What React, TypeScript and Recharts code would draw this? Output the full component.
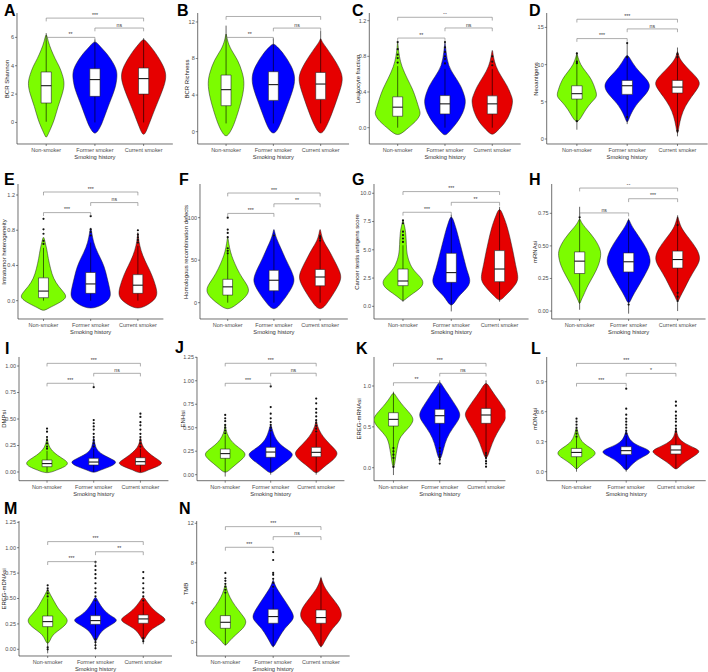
import React from "react";
import { ComposedChart, Scatter, XAxis, YAxis } from "recharts";

type Pt = [number, number];
type Box = [number, number, number];
type Sig = [number, number, number, string];

const FONT = "'Liberation Sans', Arial, sans-serif";
const groups = ["Non-smoker", "Former smoker", "Current smoker"];
const colors = ["#7CFC00", "#0000FF", "#E60000"];

// violin profiles: [value, half width in category units], bottom to top
// boxes: [q1, median, q3]; whiskers: [low, high]; outliers: [group, value]
// sig: [from, to, bracket height, label]

const A_violin: Pt[][] = [
  [[-1.1, 0], [-0.9, 0.03], [-0.52, 0.08], [0.19, 0.17], [1.13, 0.24], [2.07, 0.34], [2.78, 0.38], [3.4, 0.33], [3.96, 0.27], [4.5, 0.18], [5.14, 0.1], [5.7, 0.04], [6.4, 0]],
  [[-0.87, 0], [-0.52, 0.08], [-0.05, 0.15], [1.13, 0.27], [2.3, 0.41], [3.0, 0.45], [3.6, 0.46], [4.2, 0.38], [4.9, 0.24], [5.37, 0.1], [5.84, 0]],
  [[-1.0, 0], [-0.52, 0.07], [0.42, 0.17], [1.6, 0.31], [2.54, 0.42], [3.37, 0.48], [4.19, 0.38], [5.14, 0.2], [5.6, 0.08], [5.96, 0]],
];
const A_box: Box[] = [[1.37, 2.59, 3.56], [1.84, 3.02, 3.79], [2.0, 3.09, 3.84]];
const A_whisk: Pt[] = [[0.05, 6.3], [0, 5.85], [0, 5.95]];
const A_out: Pt[] = [];
const A_sig: Sig[] = [[1, 2, 6.0, "**"], [2, 3, 6.66, "ns"], [1, 3, 7.36, "***"]];

const B_violin: Pt[][] = [
  [[-0.7, 0], [0.04, 0.1], [0.95, 0.18], [2.4, 0.27], [3.86, 0.35], [5.32, 0.39], [6.41, 0.35], [7.87, 0.25], [8.96, 0.1], [10.05, 0.02], [11.0, 0]],
  [[-0.33, 0], [0.22, 0.1], [1.68, 0.21], [3.5, 0.34], [4.95, 0.44], [6.05, 0.46], [7.14, 0.39], [8.6, 0.21], [9.3, 0.08], [9.7, 0]],
  [[-0.5, 0], [0.58, 0.13], [2.4, 0.27], [4.22, 0.39], [5.68, 0.48], [6.78, 0.42], [8.23, 0.25], [9.33, 0.1], [9.9, 0.02], [10.3, 0]],
];
const B_box: Box[] = [[2.84, 4.59, 6.19], [3.42, 5.14, 6.56], [3.53, 5.21, 6.48]];
const B_whisk: Pt[] = [[0.9, 11.6], [0.9, 10.2], [0.9, 11.0]];
const B_out: Pt[] = [];
const B_sig: Sig[] = [[1, 2, 10.31, "**"], [2, 3, 11.33, "ns"], [1, 3, 12.6, "**"]];

const C_violin: Pt[][] = [
  [[-0.105, 0], [-0.02, 0.18], [0.07, 0.39], [0.15, 0.49], [0.2, 0.46], [0.32, 0.39], [0.43, 0.32], [0.54, 0.21], [0.69, 0.08], [0.8, 0.035], [0.9, 0.01], [1.0, 0]],
  [[-0.1, 0], [-0.04, 0.1], [0.05, 0.25], [0.17, 0.39], [0.28, 0.44], [0.35, 0.42], [0.47, 0.34], [0.58, 0.2], [0.69, 0.07], [0.85, 0.02], [1.0, 0]],
  [[-0.09, 0], [-0.04, 0.1], [0.05, 0.27], [0.17, 0.39], [0.3, 0.44], [0.35, 0.41], [0.47, 0.32], [0.58, 0.18], [0.69, 0.07], [0.8, 0.02], [0.9, 0]],
];
const C_box: Box[] = [[0.128, 0.23, 0.346], [0.154, 0.267, 0.36], [0.154, 0.267, 0.357]];
const C_whisk: Pt[] = [[0, 0.69], [0, 0.66], [0, 0.66]];
const C_out: Pt[] = [[1, 0.73], [1, 0.78], [1, 0.82], [1, 0.88], [1, 0.96], [2, 0.72], [2, 0.77], [2, 0.8], [2, 0.85], [2, 0.9], [2, 0.96], [3, 0.7], [3, 0.74], [3, 0.8]];
const C_sig: Sig[] = [[1, 2, 1.005, "**"], [2, 3, 1.118, "ns"], [1, 3, 1.238, "**"]];

const D_violin: Pt[][] = [
  [[2.15, 0], [2.8, 0.08], [3.94, 0.17], [5.06, 0.3], [5.7, 0.41], [6.6, 0.37], [8.0, 0.3], [9.1, 0.17], [10.0, 0.07], [11.0, 0.02], [11.6, 0]],
  [[2.15, 0], [2.6, 0.03], [3.5, 0.08], [4.83, 0.2], [5.95, 0.37], [7.07, 0.47], [8.0, 0.4], [9.3, 0.2], [10.65, 0.07], [11.5, 0]],
  [[0.36, 0], [1.7, 0.03], [3.04, 0.07], [4.4, 0.15], [5.7, 0.28], [6.85, 0.41], [7.74, 0.47], [9.3, 0.23], [10.4, 0.08], [11.2, 0.02], [12.0, 0]],
];
const D_box: Box[] = [[5.37, 6.09, 7.16], [6.0, 7.16, 7.88], [6.18, 6.98, 7.88]];
const D_whisk: Pt[] = [[1.25, 11.6], [2.0, 12.9], [0.36, 12.3]];
const D_out: Pt[] = [[1, 2.4], [1, 10.2], [1, 10.4], [1, 11.5], [2, 2.95], [2, 11.0], [2, 12.9], [3, 1.1], [3, 11.0], [3, 11.4]];
const D_sig: Sig[] = [[1, 2, 13.5, "***"], [2, 3, 14.8, "ns"], [1, 3, 16.1, "***"]];

const E_violin: Pt[][] = [
  [[-0.12, 0], [-0.086, 0.1], [-0.03, 0.32], [0.03, 0.49], [0.08, 0.46], [0.16, 0.32], [0.25, 0.21], [0.36, 0.15], [0.48, 0.1], [0.59, 0.07], [0.66, 0.035], [0.75, 0]],
  [[-0.1, 0], [-0.05, 0.25], [0.026, 0.42], [0.1, 0.42], [0.21, 0.37], [0.33, 0.32], [0.44, 0.25], [0.55, 0.14], [0.66, 0.06], [0.78, 0.02], [0.85, 0]],
  [[-0.1, 0], [-0.05, 0.21], [0.026, 0.39], [0.1, 0.41], [0.18, 0.37], [0.29, 0.3], [0.4, 0.2], [0.51, 0.1], [0.63, 0.035], [0.72, 0.01], [0.8, 0]],
];
const E_box: Box[] = [[0.034, 0.109, 0.259], [0.083, 0.19, 0.32], [0.083, 0.176, 0.296]];
const E_whisk: Pt[] = [[0, 0.6], [0, 0.66], [0, 0.62]];
const E_out: Pt[] = [[1, 0.645], [1, 0.68], [1, 0.76], [1, 0.81], [1, 0.93], [2, 0.74], [2, 0.78], [2, 0.81], [2, 0.96], [3, 0.66], [3, 0.69], [3, 0.72], [3, 0.75], [3, 0.8]];
const E_sig: Sig[] = [[1, 2, 1.0, "***"], [2, 3, 1.114, "ns"], [1, 3, 1.234, "***"]];

const F_violin: Pt[][] = [
  [[-9.3, 0], [-2.7, 0.18], [5, 0.36], [12.8, 0.47], [20.5, 0.43], [28.3, 0.32], [40, 0.2], [51.5, 0.11], [59.3, 0.06], [70, 0.02], [80, 0]],
  [[-9.3, 0], [-2.7, 0.13], [8.9, 0.29], [20.5, 0.42], [28.3, 0.45], [40, 0.36], [51.5, 0.25], [63, 0.16], [74.8, 0.06], [82, 0.02], [88, 0]],
  [[-9.3, 0], [-2.7, 0.13], [8.9, 0.27], [20.5, 0.4], [30.2, 0.47], [40, 0.4], [51.5, 0.29], [63, 0.18], [72.9, 0.06], [82, 0.02], [88, 0]],
];
const F_box: Box[] = [[8.9, 18.6, 27.5], [14, 26.4, 38], [19.8, 30.2, 39.1]];
const F_whisk: Pt[] = [[0, 57], [0, 78], [0, 80]];
const F_out: Pt[] = [[1, 58], [1, 61], [1, 64], [1, 77], [1, 82], [1, 86], [1, 100], [2, 79], [3, 73], [3, 76], [3, 78]];
const F_sig: Sig[] = [[1, 2, 105, "***"], [2, 3, 116.3, "**"], [1, 3, 129, "***"]];

const G_violin: Pt[][] = [
  [[0.41, 0], [0.71, 0.07], [1.15, 0.21], [1.74, 0.41], [2.33, 0.43], [3.07, 0.24], [3.66, 0.15], [4.54, 0.08], [5.43, 0.07], [6.6, 0.06], [7.3, 0.02], [7.7, 0]],
  [[-0.03, 0], [0.41, 0.08], [1.0, 0.17], [1.74, 0.36], [2.33, 0.4], [3.07, 0.33], [4.25, 0.26], [5.43, 0.19], [6.6, 0.12], [7.5, 0.055], [8.1, 0]],
  [[0.41, 0], [0.86, 0.1], [1.45, 0.24], [2.18, 0.38], [2.77, 0.38], [3.66, 0.33], [4.84, 0.28], [6.0, 0.22], [7.2, 0.15], [8.08, 0.07], [8.8, 0]],
];
const G_box: Box[] = [[1.83, 2.24, 3.3], [2.12, 2.98, 4.69], [2.18, 3.3, 4.93]];
const G_whisk: Pt[] = [[0.4, 5.4], [-0.45, 8.1], [0.4, 8.8]];
const G_out: Pt[] = [[1, 5.7], [1, 6.0], [1, 6.3], [1, 6.6], [1, 7.35], [1, 7.6]];
const G_sig: Sig[] = [[1, 2, 8.32, "***"], [2, 3, 9.2, "**"], [1, 3, 10.15, "***"]];

const H_violin: Pt[][] = [
  [[0.046, 0], [0.084, 0.03], [0.12, 0.08], [0.2, 0.17], [0.276, 0.29], [0.35, 0.39], [0.43, 0.44], [0.48, 0.42], [0.556, 0.31], [0.63, 0.14], [0.68, 0.03], [0.72, 0]],
  [[0.04, 0], [0.11, 0.07], [0.17, 0.17], [0.25, 0.29], [0.33, 0.41], [0.39, 0.46], [0.48, 0.37], [0.556, 0.24], [0.63, 0.1], [0.68, 0.03], [0.71, 0]],
  [[0.06, 0], [0.11, 0.05], [0.17, 0.14], [0.25, 0.24], [0.33, 0.37], [0.4, 0.48], [0.48, 0.39], [0.556, 0.24], [0.63, 0.08], [0.7, 0.02], [0.735, 0]],
];
const H_box: Box[] = [[0.288, 0.383, 0.454], [0.3, 0.378, 0.446], [0.33, 0.395, 0.46]];
const H_whisk: Pt[] = [[0.01, 0.8], [-0.02, 0.71], [0.0, 0.735]];
const H_out: Pt[] = [[1, 0.72], [2, 0.05], [3, 0.66], [3, 0.14], [3, 0.11], [3, 0.077]];
const H_sig: Sig[] = [[1, 2, 0.753, "ns"], [2, 3, 0.862, "***"], [1, 3, 0.944, "**"]];

const I_violin: Pt[][] = [
  [[-0.019, 0], [0.019, 0.21], [0.05, 0.39], [0.082, 0.46], [0.113, 0.39], [0.16, 0.21], [0.21, 0.085], [0.255, 0.035], [0.3, 0.01], [0.33, 0]],
  [[-0.013, 0], [0.019, 0.14], [0.05, 0.36], [0.088, 0.5], [0.113, 0.43], [0.15, 0.25], [0.19, 0.1], [0.24, 0.035], [0.3, 0.01], [0.34, 0]],
  [[-0.019, 0], [0.019, 0.16], [0.05, 0.36], [0.082, 0.49], [0.113, 0.39], [0.16, 0.23], [0.21, 0.1], [0.255, 0.035], [0.3, 0.01], [0.34, 0]],
];
const I_box: Box[] = [[0.05, 0.079, 0.113], [0.066, 0.094, 0.129], [0.066, 0.097, 0.135]];
const I_whisk: Pt[] = [[0, 0.2], [0, 0.22], [0, 0.22]];
const I_out: Pt[] = [
  [1, 0.22], [1, 0.24], [1, 0.27], [1, 0.3], [1, 0.33], [1, 0.38], [1, 0.41],
  [2, 0.24], [2, 0.27], [2, 0.3], [2, 0.33], [2, 0.36], [2, 0.4], [2, 0.43], [2, 0.46], [2, 0.49], [2, 0.8],
  [3, 0.24], [3, 0.27], [3, 0.3], [3, 0.33], [3, 0.36], [3, 0.4], [3, 0.44], [3, 0.47], [3, 0.52], [3, 0.55],
];
const I_sig: Sig[] = [[1, 2, 0.837, "***"], [2, 3, 0.931, "ns"], [1, 3, 1.025, "***"]];

const J_violin: Pt[][] = [
  [[0.007, 0], [0.067, 0.13], [0.12, 0.26], [0.174, 0.4], [0.22, 0.46], [0.263, 0.37], [0.316, 0.22], [0.37, 0.11], [0.44, 0.035], [0.5, 0.01], [0.55, 0]],
  [[0.007, 0], [0.05, 0.11], [0.103, 0.24], [0.156, 0.4], [0.21, 0.5], [0.245, 0.44], [0.3, 0.26], [0.37, 0.11], [0.476, 0.035], [0.55, 0]],
  [[0.007, 0], [0.05, 0.1], [0.103, 0.22], [0.156, 0.38], [0.22, 0.48], [0.263, 0.43], [0.334, 0.28], [0.405, 0.15], [0.476, 0.06], [0.55, 0.01], [0.6, 0]],
];
const J_box: Box[] = [[0.174, 0.224, 0.273], [0.185, 0.241, 0.291], [0.192, 0.238, 0.291]];
const J_whisk: Pt[] = [[-0.02, 0.42], [0, 0.45], [0, 0.44]];
const J_out: Pt[] = [
  [1, 0.44], [1, 0.47], [1, 0.5], [1, 0.53], [1, 0.57], [1, 0.6], [1, 0.636],
  [2, 0.47], [2, 0.5], [2, 0.53], [2, 0.56], [2, 0.6], [2, 0.65], [2, 0.72], [2, 0.94],
  [3, 0.46], [3, 0.49], [3, 0.52], [3, 0.55], [3, 0.58], [3, 0.62], [3, 0.66], [3, 0.7], [3, 0.76], [3, 0.81],
];
const J_sig: Sig[] = [[1, 2, 0.973, "***"], [2, 3, 1.08, "ns"], [1, 3, 1.186, "***"]];

const K_violin: Pt[][] = [
  [[-0.03, 0], [0.073, 0.035], [0.175, 0.06], [0.277, 0.09], [0.38, 0.14], [0.48, 0.32], [0.563, 0.43], [0.624, 0.42], [0.706, 0.29], [0.79, 0.16], [0.87, 0.06], [0.93, 0]],
  [[0.073, 0], [0.175, 0.06], [0.298, 0.11], [0.42, 0.2], [0.543, 0.36], [0.645, 0.47], [0.747, 0.36], [0.87, 0.22], [0.99, 0.07], [1.07, 0]],
  [[0.094, 0], [0.175, 0.06], [0.298, 0.13], [0.42, 0.23], [0.543, 0.37], [0.645, 0.47], [0.706, 0.42], [0.83, 0.27], [0.95, 0.11], [1.07, 0]],
];
const K_box: Box[] = [[0.51, 0.592, 0.673], [0.543, 0.636, 0.714], [0.543, 0.645, 0.726]];
const K_whisk: Pt[] = [[-0.09, 0.93], [0.07, 1.07], [0.09, 1.07]];
const K_out: Pt[] = [[1, 0.01], [1, 0.12], [1, 0.16], [1, 0.2], [1, 0.24], [2, 0.05], [2, 0.1], [2, 0.13], [2, 0.16], [2, 0.2], [2, 0.24], [3, 0.012], [3, 0.05], [3, 0.08], [3, 0.12], [3, 0.15], [3, 0.18]];
const K_sig: Sig[] = [[1, 2, 1.04, "**"], [2, 3, 1.155, "ns"], [1, 3, 1.277, "***"]];

const L_violin: Pt[][] = [
  [[0.017, 0], [0.05, 0.05], [0.1, 0.17], [0.15, 0.34], [0.19, 0.4], [0.233, 0.3], [0.283, 0.13], [0.35, 0.05], [0.42, 0.015], [0.45, 0]],
  [[0, 0], [0.05, 0.07], [0.1, 0.17], [0.15, 0.34], [0.19, 0.5], [0.223, 0.44], [0.267, 0.2], [0.317, 0.07], [0.38, 0.02], [0.42, 0]],
  [[0.017, 0], [0.05, 0.07], [0.1, 0.19], [0.157, 0.37], [0.2, 0.5], [0.233, 0.4], [0.283, 0.17], [0.333, 0.05], [0.4, 0.015], [0.44, 0]],
];
const L_box: Box[] = [[0.15, 0.193, 0.233], [0.173, 0.21, 0.25], [0.177, 0.217, 0.267]];
const L_whisk: Pt[] = [[0.0, 0.34], [0.0, 0.36], [0.03, 0.38]];
const L_out: Pt[] = [
  [1, 0.35], [1, 0.38], [1, 0.41], [1, 0.44], [1, 0.47], [1, 0.5], [1, 0.53],
  [2, 0.38], [2, 0.41], [2, 0.44], [2, 0.47], [2, 0.5], [2, 0.53], [2, 0.57], [2, 0.63], [2, 0.83],
  [3, 0.4], [3, 0.43], [3, 0.46], [3, 0.5], [3, 0.53], [3, 0.56], [3, 0.6], [3, 0.66], [3, 0.7],
];
const L_sig: Sig[] = [[1, 2, 0.883, "***"], [2, 3, 0.983, "*"], [1, 3, 1.083, "***"]];

const M_violin: Pt[][] = [
  [[0.043, 0], [0.092, 0.055], [0.141, 0.1], [0.19, 0.24], [0.24, 0.38], [0.289, 0.43], [0.338, 0.34], [0.404, 0.21], [0.47, 0.14], [0.535, 0.055], [0.6, 0]],
  [[0.06, 0], [0.125, 0.055], [0.19, 0.14], [0.246, 0.35], [0.289, 0.49], [0.33, 0.31], [0.387, 0.17], [0.47, 0.055], [0.53, 0]],
  [[0.075, 0], [0.125, 0.055], [0.19, 0.14], [0.246, 0.35], [0.289, 0.5], [0.33, 0.38], [0.387, 0.21], [0.47, 0.07], [0.53, 0]],
];
const M_box: Box[] = [[0.223, 0.272, 0.328], [0.246, 0.282, 0.331], [0.256, 0.299, 0.338]];
const M_whisk: Pt[] = [[-0.04, 0.5], [0.01, 0.46], [0.05, 0.46]];
const M_out: Pt[] = [
  [1, 0.0], [1, 0.02], [1, 0.52], [1, 0.55], [1, 0.58], [1, 0.6], [1, 0.63],
  [2, 0.01], [2, 0.04], [2, 0.07], [2, 0.1], [2, 0.48], [2, 0.52], [2, 0.56], [2, 0.6], [2, 0.65], [2, 0.7], [2, 0.74], [2, 0.78], [2, 0.82], [2, 0.86],
  [3, 0.08], [3, 0.11], [3, 0.48], [3, 0.52], [3, 0.56], [3, 0.6], [3, 0.65], [3, 0.7], [3, 0.76],
];
const M_sig: Sig[] = [[1, 2, 0.863, "***"], [2, 3, 0.96, "**"], [1, 3, 1.06, "***"]];

const N_violin: Pt[][] = [
  [[-0.44, 0], [0.07, 0.07], [0.74, 0.21], [1.41, 0.38], [2.08, 0.45], [2.59, 0.38], [3.26, 0.27], [4.1, 0.14], [4.94, 0.055], [5.5, 0.02], [6.0, 0]],
  [[-0.6, 0], [-0.1, 0.055], [0.57, 0.13], [1.41, 0.24], [2.08, 0.38], [2.59, 0.45], [3.43, 0.35], [4.44, 0.21], [5.45, 0.07], [6.0, 0.02], [6.4, 0]],
  [[-0.6, 0], [-0.1, 0.055], [0.57, 0.13], [1.41, 0.24], [2.08, 0.38], [2.76, 0.45], [3.6, 0.38], [4.44, 0.24], [5.45, 0.08], [6.2, 0.02], [6.62, 0]],
];
const N_box: Box[] = [[1.41, 2.02, 2.69], [1.92, 2.59, 3.33], [1.92, 2.49, 3.26]];
const N_whisk: Pt[] = [[-0.3, 4.9], [-0.5, 5.4], [-0.5, 6.6]];
const N_out: Pt[] = [[1, 5.0], [1, 5.3], [1, 5.6], [1, 5.9], [1, 6.2], [1, 6.45], [1, 7.0], [2, 5.6], [2, 6.0], [2, 6.4], [2, 6.8], [2, 7.0], [2, 8.3], [2, 9.1]];
const N_sig: Sig[] = [[1, 2, 9.58, "***"], [2, 3, 10.65, "ns"], [1, 3, 11.66, "***"]];

// page layout
const ROWS: Pt[] = [[13.3, 144.3], [184, 319], [357, 480.7], [521, 656]];
const XH = 26;
const BW = 0.105;

type Lay = { col: number; row: number; axisX: number; step: number; pad: number; labelX: number; lx: number; ly: number };

const panels = [
  { key: "A", title: "BCR Shannon", domain: [-1.52, 7.72], ticks: [0, 2, 4, 6], dec: 0, violins: A_violin, boxes: A_box, whisk: A_whisk, out: A_out, sig: A_sig,
    lay: { col: 0, row: 0, axisX: 17, step: 48.7, pad: 0.6, labelX: 7, lx: 4, ly: 3 } },
  { key: "B", title: "BCR Richness", domain: [-1.35, 12.98], ticks: [0, 4, 8, 12], dec: 0, violins: B_violin, boxes: B_box, whisk: B_whisk, out: B_out, sig: B_sig,
    lay: { col: 176, row: 0, axisX: 197.7, step: 47.3, pad: 0.6, labelX: 187, lx: 177, ly: 3 } },
  { key: "C", title: "Leukocyte fraction", domain: [-0.183, 1.286], ticks: [0, 0.4, 0.8, 1.2], dec: 1, violins: C_violin, boxes: C_box, whisk: C_whisk, out: C_out, sig: C_sig,
    lay: { col: 352, row: 0, axisX: 369.3, step: 47.3, pad: 0.6, labelX: 357.5, lx: 352, ly: 3 } },
  { key: "D", title: "Neoantigens", domain: [-0.67, 16.94], ticks: [0, 5, 10, 15], dec: 0, violins: D_violin, boxes: D_box, whisk: D_whisk, out: D_out, sig: D_sig,
    lay: { col: 527, row: 0, axisX: 546.7, step: 50.3, pad: 0.6, labelX: 535.5, lx: 529, ly: 3 } },
  { key: "E", title: "Intratumor heterogeneity", domain: [-0.208, 1.325], ticks: [0, 0.4, 0.8, 1.2], dec: 1, violins: E_violin, boxes: E_box, whisk: E_whisk, out: E_out, sig: E_sig,
    lay: { col: 0, row: 1, axisX: 18, step: 47.2, pad: 0.54, labelX: 4, lx: 4, ly: 172 } },
  { key: "F", title: "Homologous recombination defects", domain: [-19.2, 139.6], ticks: [0, 50, 100], dec: 0, violins: F_violin, boxes: F_box, whisk: F_whisk, out: F_out, sig: F_sig,
    lay: { col: 176, row: 1, axisX: 200, step: 46.2, pad: 0.6, labelX: 186, lx: 179, ly: 172 } },
  { key: "G", title: "Cancer testis antigens score", domain: [-1.12, 10.82], ticks: [0, 2.5, 5, 7.5, 10], dec: 1, violins: G_violin, boxes: G_box, whisk: G_whisk, out: G_out, sig: G_sig,
    lay: { col: 352, row: 1, axisX: 374, step: 48.3, pad: 0.6, labelX: 357, lx: 352, ly: 172 } },
  { key: "H", title: "mRNAsi", domain: [-0.061, 0.975], ticks: [0, 0.25, 0.5, 0.75], dec: 2, violins: H_violin, boxes: H_box, whisk: H_whisk, out: H_out, sig: H_sig,
    lay: { col: 527, row: 1, axisX: 551.7, step: 49, pad: 0.57, labelX: 535, lx: 529, ly: 172 } },
  { key: "I", title: "DMPsi", domain: [-0.082, 1.085], ticks: [0, 0.25, 0.5, 0.75, 1], dec: 2, violins: I_violin, boxes: I_box, whisk: I_whisk, out: I_out, sig: I_sig,
    lay: { col: 0, row: 2, axisX: 19, step: 46.7, pad: 0.6, labelX: 4, lx: 5, ly: 341 } },
  { key: "J", title: "ENHsi", domain: [-0.064, 1.253], ticks: [0, 0.25, 0.5, 0.75, 1, 1.25], dec: 2, violins: J_violin, boxes: J_box, whisk: J_whisk, out: J_out, sig: J_sig,
    lay: { col: 176, row: 2, axisX: 197, step: 45.5, pad: 0.62, labelX: 183, lx: 175, ly: 340 } },
  { key: "K", title: "EREG-mRNAsi", domain: [-0.159, 1.355], ticks: [0, 0.5, 1], dec: 1, violins: K_violin, boxes: K_box, whisk: K_whisk, out: K_out, sig: K_sig,
    lay: { col: 352, row: 2, axisX: 374, step: 46.3, pad: 0.42, labelX: 359, lx: 356, ly: 341 } },
  { key: "L", title: "mDNAsi", domain: [-0.09, 1.147], ticks: [0, 0.3, 0.6, 0.9], dec: 1, violins: L_violin, boxes: L_box, whisk: L_whisk, out: L_out, sig: L_sig,
    lay: { col: 527, row: 2, axisX: 546.7, step: 49.7, pad: 0.6, labelX: 535, lx: 531, ly: 341 } },
  { key: "M", title: "EREG-mDNAsi", domain: [-0.066, 1.263], ticks: [0, 0.25, 0.5, 0.75, 1, 1.25], dec: 2, violins: M_violin, boxes: M_box, whisk: M_whisk, out: M_out, sig: M_sig,
    lay: { col: 0, row: 3, axisX: 19, step: 47.8, pad: 0.6, labelX: 4, lx: 4, ly: 501 } },
  { key: "N", title: "TMB", domain: [-1.38, 12.23], ticks: [0, 4, 8, 12], dec: 0, violins: N_violin, boxes: N_box, whisk: N_whisk, out: N_out, sig: N_sig,
    lay: { col: 176, row: 3, axisX: 196.7, step: 47.8, pad: 0.6, labelX: 186, lx: 179, ly: 501 } },
];

function violinPts(g: number, prof: Pt[]) {
  const right = prof.map(([y, w]) => ({ x: g + w, y }));
  const left = prof.filter(([, w]) => w > 0).reverse().map(([y, w]) => ({ x: g - w, y }));
  return right.concat(left);
}

const Nothing = () => <g />;
const Dot = (p: any) => <circle cx={p.cx} cy={p.cy} r={1.1} fill="#111" />;
const SigText = (p: any) => (
  <text x={p.cx} y={p.cy - 1.4} textAnchor="middle" fontSize={5.2} fill="#333" fontFamily={FONT}>
    {p.payload.label}
  </text>
);

function Panel({ p }: { p: (typeof panels)[number] }) {
  const L: Lay = p.lay;
  const [top, bottom] = ROWS[L.row];
  const yw = L.axisX - L.col;
  const width = yw + (2 + 2 * L.pad) * L.step + 2;
  const height = bottom - top + 2 + XH;
  const tip = 0.025 * (p.domain[1] - p.domain[0]);

  const seg = (k: string, data: { x: number; y: number }[], line: any, joint = "linear") => (
    <Scatter key={k} data={data} line={line} lineJointType={joint as any} shape={Nothing} isAnimationActive={false} />
  );

  const items: React.ReactNode[] = [];
  p.violins.forEach((prof, i) =>
    items.push(seg("v" + i, violinPts(i + 1, prof), { stroke: "#1a1a1a", strokeWidth: 0.5, fill: colors[i] }, "basisClosed"))
  );
  p.whisk.forEach(([lo, hi], i) =>
    items.push(seg("w" + i, [{ x: i + 1, y: lo }, { x: i + 1, y: hi }], { stroke: "#000", strokeWidth: 0.6, fill: "none" }))
  );
  p.boxes.forEach(([q1, , q3], i) =>
    items.push(
      seg(
        "b" + i,
        [
          { x: i + 1 - BW, y: q1 },
          { x: i + 1 + BW, y: q1 },
          { x: i + 1 + BW, y: q3 },
          { x: i + 1 - BW, y: q3 },
        ],
        { stroke: "#222", strokeWidth: 0.6, fill: "#fff" },
        "linearClosed"
      )
    )
  );
  p.boxes.forEach(([, med], i) =>
    items.push(seg("m" + i, [{ x: i + 1 - BW, y: med }, { x: i + 1 + BW, y: med }], { stroke: "#000", strokeWidth: 1, fill: "none" }))
  );
  if (p.out.length)
    items.push(
      <Scatter key="out" data={p.out.map(([g, v]) => ({ x: g, y: v }))} shape={Dot} isAnimationActive={false} />
    );
  p.sig.forEach(([a, b, h], i) =>
    items.push(
      seg(
        "s" + i,
        [
          { x: a, y: h - tip },
          { x: a, y: h },
          { x: b, y: h },
          { x: b, y: h - tip },
        ],
        { stroke: "#777", strokeWidth: 0.6, fill: "none" }
      )
    )
  );
  items.push(
    <Scatter
      key="lab"
      data={p.sig.map(([a, b, h, label]) => ({ x: (a + b) / 2, y: h, label }))}
      shape={SigText}
      isAnimationActive={false}
    />
  );

  return (
    <>
      <div style={{ position: "absolute", left: L.col, top: top - 2 }}>
        <ComposedChart width={width} height={height} margin={{ top: 2, right: 2, bottom: 0, left: 0 }}>
          <XAxis
            type="number"
            dataKey="x"
            domain={[1 - L.pad, 3 + L.pad]}
            allowDataOverflow
            ticks={[1, 2, 3]}
            interval={0}
            tickFormatter={(v: number) => groups[v - 1]}
            height={XH}
            tickSize={2}
            tick={{ fontSize: 5.5, fill: "#4d4d4d", fontFamily: FONT }}
            axisLine={{ stroke: "#333", strokeWidth: 0.7 }}
            tickLine={{ stroke: "#333", strokeWidth: 0.6 }}
            label={{ value: "Smoking history", position: "insideBottom", offset: 11, style: { fontSize: 5.8, fill: "#333", fontFamily: FONT } }}
          />
          <YAxis
            type="number"
            dataKey="y"
            domain={p.domain as [number, number]}
            allowDataOverflow
            ticks={p.ticks}
            interval={0}
            tickFormatter={(v: number) => v.toFixed(p.dec)}
            width={yw}
            tickSize={2}
            tickMargin={1}
            tick={{ fontSize: 5.5, fill: "#4d4d4d", fontFamily: FONT }}
            axisLine={{ stroke: "#333", strokeWidth: 0.7 }}
            tickLine={{ stroke: "#333", strokeWidth: 0.6 }}
          />
          {items}
        </ComposedChart>
      </div>
      <div
        style={{
          position: "absolute",
          left: L.labelX,
          top: (top + bottom) / 2,
          transform: "translate(-50%, -50%) rotate(-90deg)",
          whiteSpace: "nowrap",
          fontSize: 6,
          lineHeight: "7px",
          color: "#222",
        }}
      >
        {p.title}
      </div>
    </>
  );
}

export default function App() {
  return (
    <div style={{ position: "absolute", left: 0, top: 0, width: 708, height: 672, background: "#fff", overflow: "hidden", fontFamily: FONT }}>
      {panels.map((p) => (
        <Panel key={p.key} p={p} />
      ))}
      {panels.map((p) => (
        <div
          key={"t" + p.key}
          style={{ position: "absolute", left: p.lay.lx, top: p.lay.ly, fontSize: 16, lineHeight: "16px", fontWeight: 700, color: "#000" }}
        >
          {p.key}
        </div>
      ))}
    </div>
  );
}
